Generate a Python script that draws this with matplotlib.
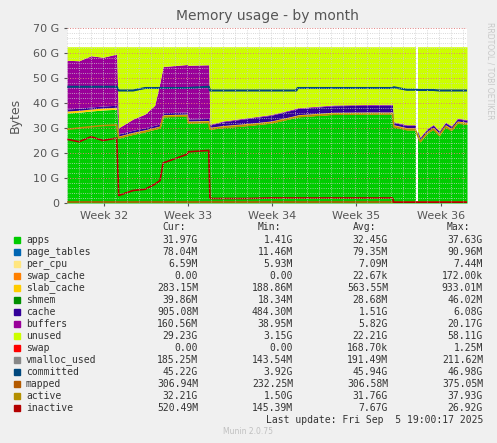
import numpy as np
import matplotlib
matplotlib.use("Agg")
import matplotlib.pyplot as plt

# ── Datos (días desde el inicio, valores en GB) ─────────────
T = [0, 1, 2, 3, 4.14, 4.3, 5.5, 6.5, 7.3, 7.75, 8.0, 10.0, 10.1, 11.8, 11.9,
     13, 15, 17, 19.1, 19.2, 22.2, 25, 27.1, 27.2, 28.3, 29.0, 29.4, 30, 30.5,
     31, 31.5, 32, 32.5, 33.3]
apps = [36, 36.3, 36.8, 37.2, 37.5, 26, 27.5, 28.5, 29.5, 30, 34.5, 34.8, 32,
        32.2, 29.5, 30.2, 31, 32, 34.3, 34.5, 35.5, 35.6, 35.6, 30.5, 29.3,
        29.3, 24.5, 28, 29.5, 27, 30.5, 29, 32, 31.5]
slab_cache = [0.8] * len(T)
cache = [0.8] * 13 + [0.8, 0.9, 1.5, 2.0, 2.3, 2.5, 2.5, 2.6, 2.7, 2.8, 0.9,
                      0.9, 0.9, 0.8, 0.8, 0.8, 0.8, 0.8, 0.8, 0.8, 0.8]
buffers = [19.5, 19, 20.5, 19.5, 20.5, 2.5, 4.5, 5.5, 8, 17, 18.5, 19, 21.5,
           21.5] + [0.3] * 20
TOTAL = 62.5
GAP = (29.05, 29.2)

committed = [46.5, 46.5, 46.5, 46.5, 46.5, 45, 45, 46, 46, 46, 46, 46, 46,
             46.5, 45, 45, 45, 45, 45, 46, 46, 46, 46, 46.3, 45.3, 45.3, 45.2,
             45.2, 45.2, 45, 45, 45, 45, 45]
active = [29.5, 30, 30.5, 31, 31.2] + apps[5:]
inactive = [25.5, 24.5, 26.5, 25, 26, 3, 5, 5.5, 7.5, 9, 16, 19.5, 20.5, 21,
            1.8, 1.8, 1.8, 2, 2, 2, 2, 2, 2, 0.3, 0.3, 0.3, 0.3, 0.3, 0.3,
            0.3, 0.3, 0.3, 0.3, 0.3]
mapped = [0.3] * len(T)

week_pos = [3.1, 10.1, 17.1, 24.1, 31.1]
week_lbl = ["Week 32", "Week 33", "Week 34", "Week 35", "Week 36"]

legend = [
    ("apps", "#00CC00", "31.97G", "1.41G", "32.45G", "37.63G"),
    ("page_tables", "#0066B3", "78.04M", "11.46M", "79.35M", "90.96M"),
    ("per_cpu", "#FFE680", "6.59M", "5.93M", "7.09M", "7.44M"),
    ("swap_cache", "#FF8000", "0.00", "0.00", "22.67k", "172.00k"),
    ("slab_cache", "#FFCC00", "283.15M", "188.86M", "563.55M", "933.01M"),
    ("shmem", "#008F00", "39.86M", "18.34M", "28.68M", "46.02M"),
    ("cache", "#330099", "905.08M", "484.30M", "1.51G", "6.08G"),
    ("buffers", "#990099", "160.56M", "38.95M", "5.82G", "20.17G"),
    ("unused", "#CCFF00", "29.23G", "3.15G", "22.21G", "58.11G"),
    ("swap", "#FF0000", "0.00", "0.00", "168.70k", "1.25M"),
    ("vmalloc_used", "#888888", "185.25M", "143.54M", "191.49M", "211.62M"),
    ("committed", "#00487D", "45.22G", "3.92G", "45.94G", "46.98G"),
    ("mapped", "#B35A00", "306.94M", "232.25M", "306.58M", "375.05M"),
    ("active", "#B38F00", "32.21G", "1.50G", "31.76G", "37.93G"),
    ("inactive", "#B30000", "520.49M", "145.39M", "7.67G", "26.92G"),
]

# ── Figura ─────────────────────────────────────────────────
BG = "#F0F0F0"
fig = plt.figure(figsize=(4.97, 4.43), dpi=100, facecolor=BG)
ax = fig.add_axes([67 / 497, 1 - 203 / 443, 400 / 497, 175 / 443])
ax.set_facecolor("white")

t = np.array(T)
stack = [(apps, "#00CC00"), (slab_cache, "#FFCC00"), (cache, "#330099"),
         (buffers, "#990099")]
base = np.zeros(len(T))
for vals, col in stack:
    top = base + np.array(vals)
    ax.fill_between(t, base, top, color=col, lw=0)
    base = top
ax.fill_between(t, base, TOTAL, color="#CCFF00", lw=0)
ax.axvspan(*GAP, color="white", lw=0)

ax.plot(t, committed, color="#00487D", lw=1.5)
ax.plot(t, mapped, color="#B35A00", lw=1.2)
ax.plot(t, active, color="#B38F00", lw=1.2)
ax.plot(t, inactive, color="#B30000", lw=1.2)

ax.set_xlim(0, 33.3)
ax.set_ylim(0, 70)
ax.set_yticks(range(0, 71, 10))
ax.set_yticklabels(["0"] + [f"{v} G" for v in range(10, 71, 10)])
ax.set_yticks(range(0, 71, 2), minor=True)
ax.set_xticks(week_pos)
ax.set_xticklabels(week_lbl)
ax.set_xticks(np.arange(0, 33.3, 1), minor=True)
ax.grid(True, which="minor", color="#CCCCCC", ls=":", lw=0.6)
ax.grid(True, which="major", axis="y", color="#E08080", ls=":", lw=0.7)
ax.set_axisbelow(False)
ax.tick_params(colors="#555555", labelsize=8, length=2)
ax.tick_params(which="minor", length=0)
for s in ax.spines.values():
    s.set_visible(False)
ax.set_ylabel("Bytes", color="#555555", fontsize=9, labelpad=8)
ax.set_title("Memory usage - by month", color="#555555", fontsize=10, pad=6)
fig.text(0.985, 0.84, "RRDTOOL / TOBI OETIKER", rotation=270, fontsize=5.5,
         color="#C8C8C8", ha="center", va="center")

# ── Leyenda estilo Munin ───────────────────────────────────
mono = dict(family="DejaVu Sans Mono", fontsize=7, color="#333333")
def fy(py):
    return 1 - py / 443

for x, h in zip([186, 281, 376, 470], ["Cur:", "Min:", "Avg:", "Max:"]):
    fig.text(x / 497, fy(227), h, ha="right", va="center", **mono)
for i, (name, col, *vals) in enumerate(legend):
    y = 240 + 12 * i
    fig.patches.append(plt.Rectangle((14 / 497, fy(y + 3)), 6 / 497, 6 / 443,
                                     transform=fig.transFigure, color=col))
    fig.text(26 / 497, fy(y), name, ha="left", va="center", **mono)
    for x, v in zip([198, 293, 388, 483], vals):
        fig.text(x / 497, fy(y), v, ha="right", va="center", **mono)
fig.text(483 / 497, fy(420), "Last update: Fri Sep  5 19:00:17 2025",
         ha="right", va="center", **mono)
fig.text(248 / 497, fy(432), "Munin 2.0.75", ha="center", va="center",
         fontsize=5.5, color="#C0C0C0")

fig.savefig("out.png", dpi=100, facecolor=BG)
